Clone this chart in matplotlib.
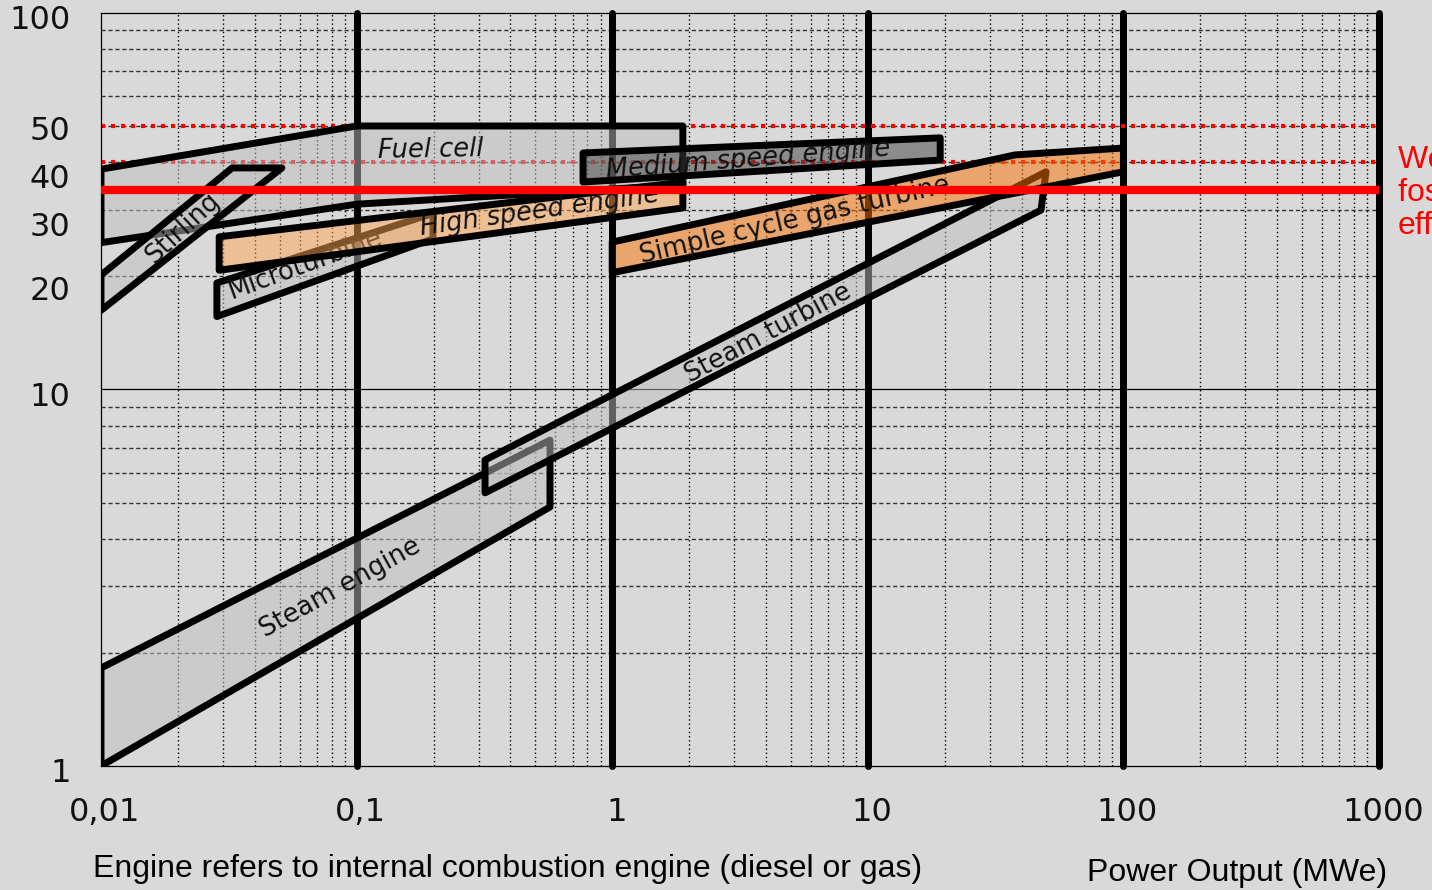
import numpy as np
import matplotlib.pyplot as plt
from matplotlib.patches import Polygon
import matplotlib.transforms as mtransforms

# technology areas: power output (MWe) and efficiency (%)
steam_engine_x = [0.01, 0.571, 0.571, 0.01]
steam_engine_y = [1.82, 7.33, 4.87, 1.0]

steam_turbine_x = [0.318, 49.8, 47.6, 0.318]
steam_turbine_y = [6.49, 37.8, 29.9, 5.31]

fuel_cell_x = [0.01, 0.1, 1.89, 1.89, 0.1, 0.01]
fuel_cell_y = [38.4, 50, 50, 34.9, 31.0, 24.5]

stirling_x = [0.01, 0.0326, 0.051, 0.01]
stirling_y = [20.1, 38.7, 38.7, 16.2]

microturbine_x = [0.0284, 0.199, 0.199, 0.0284]
microturbine_y = [19.15, 29.3, 25.1, 15.6]

high_speed_x = [0.029, 1.89, 1.89, 0.029]
high_speed_y = [25.4, 35.5, 30.3, 20.7]

medium_speed_x = [0.769, 19.2, 19.2, 0.769]
medium_speed_y = [42.4, 46.5, 40.6, 35.5]

gas_turbine_x = [1.0, 37.7, 100, 100, 1.0]
gas_turbine_y = [24.6, 41.9, 43.7, 37.8, 20.4]

# reference efficiency lines (%)
dotted_levels = [50, 40]
fossil_average = 33.8

# area labels: text, x, y, rotation, italic (same order as the areas)
labels = [
    ("Steam engine", 0.0861, 2.97, 29, False),
    ("Steam turbine", 4.07, 14.1, 28, False),
    ("Fuel cell", 0.195, 43.2, 1, True),
    ("Stirling", 0.0209, 26.8, 43, False),
    ("Microturbine", 0.0628, 21.4, 20, False),
    ("High speed engine", 0.522, 29.6, 8, True),
    ("Medium speed engine", 3.4, 40.6, 4.5, True),
    ("Simple cycle gas turbine", 5.19, 28.1, 13, False),
]

x_ticks = [0.01, 0.1, 1, 10, 100, 1000]
x_tick_labels = ["0,01", "0,1", "1", "10", "100", "1000"]
y_ticks = [1, 10, 20, 30, 40, 50, 100]
y_tick_labels = ["1", "10", "20", "30", "40", "50", "100"]

bg = "#d9d9d9"
light_gray = (0.75, 0.75, 0.75, 0.5)
dark_gray = (0.25, 0.25, 0.25, 0.5)
light_orange = (1.0, 0.655, 0.325, 0.5)
orange = (0.976, 0.45, 0.0, 0.5)

fig = plt.figure(figsize=(14.32, 8.9), dpi=100)
fig.patch.set_facecolor(bg)
ax = fig.add_axes([0.07053, 0.13933, 0.89246, 0.84652])
ax.set_facecolor(bg)
ax.set_xscale("log")
ax.set_yscale("log")
ax.set_xlim(0.01, 1000)
ax.set_ylim(1, 100)

# minor grid
for dec in [0.01, 0.1, 1, 10, 100]:
    for m in range(2, 10):
        ax.axvline(dec * m, color="black", lw=1.0, linestyle=(0, (1, 2)), zorder=0.5)
for dec in [1, 10]:
    for m in range(2, 10):
        ax.axhline(dec * m, color="#333333", lw=1.0, linestyle=(0, (3, 2)), zorder=0.5)
ax.axhline(10, color="black", lw=0.9, zorder=0.6)

# thick decade lines
for xv in [0.1, 1, 10, 100, 1000]:
    ax.axvline(xv, color="black", lw=5, solid_capstyle="round", clip_on=False, zorder=0.7)

for lv in dotted_levels:
    ax.axhline(lv, color="red", lw=3, linestyle=(0, (1, 1.4)), zorder=0.8)

areas = [
    (steam_engine_x, steam_engine_y, light_gray),
    (steam_turbine_x, steam_turbine_y, light_gray),
    (fuel_cell_x, fuel_cell_y, light_gray),
    (stirling_x, stirling_y, light_gray),
    (microturbine_x, microturbine_y, light_gray),
    (high_speed_x, high_speed_y, light_orange),
    (medium_speed_x, medium_speed_y, dark_gray),
    (gas_turbine_x, gas_turbine_y, orange),
]
for i, ((xs, ys, fc), (text, tx, ty, rot, italic)) in enumerate(zip(areas, labels)):
    z = 2 + i * 0.1
    poly = Polygon(np.column_stack([xs, ys]), closed=True, facecolor=fc,
                   edgecolor="black", lw=5, joinstyle="round", zorder=z)
    ax.add_patch(poly)
    ax.text(tx, ty, text, rotation=rot, ha="center", va="center", fontsize=18.5,
            style="italic" if italic else "normal", color="#111111",
            rotation_mode="anchor", zorder=z + 0.05)

ax.axhline(fossil_average, color="red", lw=6, zorder=5)

# axes frame and ticks
for side in ["left", "bottom", "top"]:
    ax.spines[side].set_linewidth(0.9)
    ax.spines[side].set_color("black")
ax.spines["right"].set_visible(False)
ax.minorticks_off()
ax.set_xticks(x_ticks)
ax.set_xticklabels(x_tick_labels)
ax.set_yticks(y_ticks)
ax.set_yticklabels(y_tick_labels)
ax.tick_params(length=0, labelsize=23, colors="#111111")
ax.tick_params(axis="x", pad=22)
ax.tick_params(axis="y", pad=22)

# nudge labels like the original
x_shift = mtransforms.ScaledTranslation(4 / 100, 0, fig.dpi_scale_trans)
for lab in ax.get_xticklabels():
    lab.set_transform(lab.get_transform() + x_shift)
y_nudge_px = [4, 5, 12, 14, 14, 2, 4]
for lab, dy in zip(ax.get_yticklabels(), y_nudge_px):
    lab.set_transform(lab.get_transform() +
                      mtransforms.ScaledTranslation(0, -dy / 100, fig.dpi_scale_trans))

fig.text(93 / 1432, 1 - 869 / 890, "Engine refers to internal combustion engine (diesel or gas)",
         ha="left", va="center", fontsize=23, family="Liberation Sans")
fig.text(1087 / 1432, 1 - 873 / 890, "Power Output (MWe)",
         ha="left", va="center", fontsize=23, family="Liberation Sans")
fig.text(1398 / 1432, 1 - 193 / 890, "Weighted average\nfossil fuel\nefficiency",
         ha="left", va="center", fontsize=23, color="red", family="Liberation Sans",
         linespacing=1.15)

fig.savefig("out.png", dpi=100, facecolor=bg)
